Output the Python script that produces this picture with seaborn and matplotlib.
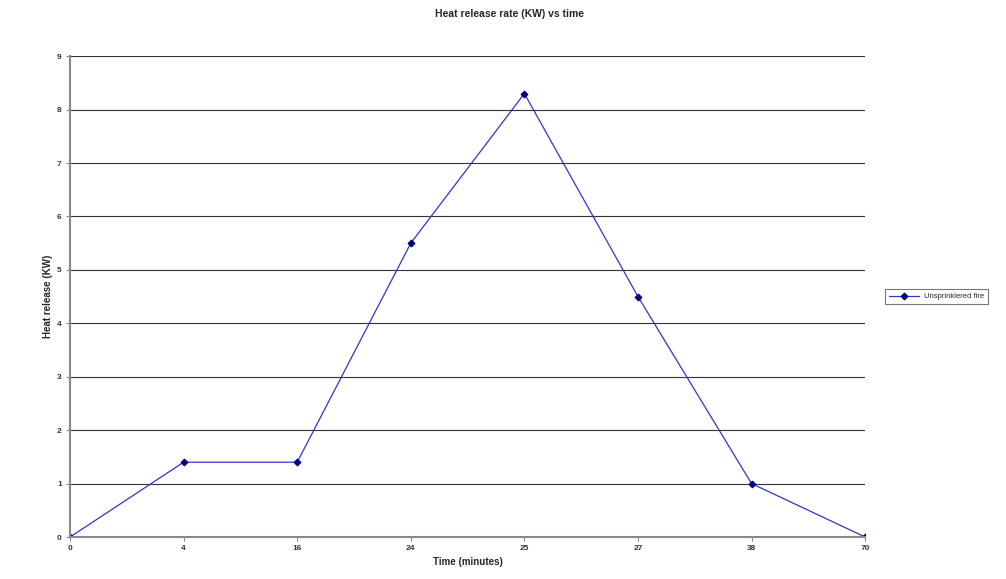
import matplotlib
matplotlib.use("Agg")
import matplotlib.pyplot as plt
import seaborn as sns

# Data
time_labels = ["0", "4", "16", "24", "25", "27", "38", "70"]
heat_release = [0, 1.4, 1.4, 5.5, 8.3, 4.5, 1.0, 0]
series_name = "Unsprinklered fire"

sns.set_style("white")
plt.rcParams["font.family"] = ["Liberation Sans", "DejaVu Sans"]

fig = plt.figure(figsize=(10.06, 5.79), dpi=100)
ax = fig.add_axes([0.0696, 0.0725, 0.7904, 0.8305])

sns.lineplot(x=time_labels, y=heat_release, ax=ax, sort=False,
             color="#3333cc", linewidth=0.9, marker="D", markersize=3.5,
             markerfacecolor="#000080", markeredgecolor="#000080",
             label=series_name)

ax.set_xlim(0, len(time_labels) - 1)
ax.set_ylim(0, 9)
ax.set_yticks(range(0, 10))
ax.yaxis.grid(True, color="#333333", linewidth=0.8)
ax.xaxis.grid(False)
ax.set_axisbelow(True)

for s in ["top", "right"]:
    ax.spines[s].set_visible(False)
ax.spines["left"].set_color("#888888")
ax.spines["bottom"].set_color("#888888")
ax.spines["left"].set_linewidth(1.5)
ax.spines["bottom"].set_linewidth(1.5)

ax.tick_params(axis="both", labelsize=6, length=3, color="#888888",
               direction="out", bottom=True, left=True, pad=3)
for lbl in ax.get_xticklabels() + ax.get_yticklabels():
    lbl.set_fontweight("bold")
    lbl.set_color("#333333")

ax.set_xlabel("Time (minutes)", fontsize=7, fontweight="bold", labelpad=3)
ax.set_ylabel("Heat release (KW)", fontsize=7, fontweight="bold", labelpad=3)
ax.set_title("Heat release rate (KW) vs time", fontsize=7.5,
             fontweight="bold", pad=28, x=0.553)

leg = ax.legend(loc="center left", bbox_to_anchor=(1.02, 0.5), fontsize=5.5,
                frameon=True, fancybox=False, edgecolor="#555555",
                handlelength=4, borderpad=0.5, handletextpad=0.6)
leg.get_frame().set_linewidth(0.8)

fig.savefig("out.png", dpi=100)
